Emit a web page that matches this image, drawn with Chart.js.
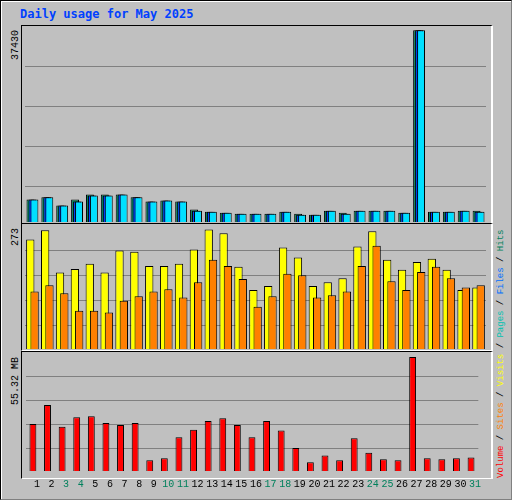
<!DOCTYPE html>
<html>
<head>
<meta charset="utf-8">
<script src="https://cdn.jsdelivr.net/npm/chart.js@4/dist/chart.umd.min.js"></script>
<style>
body{margin:0;background:#fff}
#wrap{position:absolute;left:0;top:0;width:510px;height:498px;background:#c0c0c0;border-top:1px solid #000;border-left:1px solid #000;border-right:1px solid #808080;border-bottom:1px solid #808080;box-shadow:inset 1px 1px 0 #fff;font-family:"Liberation Mono",monospace}
.panel{position:absolute;left:20px;width:469px;border-top:1px solid #000;border-left:1px solid #000;border-right:2px solid #fff;border-bottom:1px solid #fff}
canvas{position:absolute}
#title{position:absolute;left:19px;top:6px;color:#0040ff;font-weight:bold;font-size:12px;font-family:"DejaVu Sans Mono",monospace}
.rot{position:absolute;transform-origin:0 0;transform:rotate(-90deg);font-size:10px;line-height:12px;white-space:nowrap;color:#000}
</style>
</head>
<body>
<div id="wrap">
  <div id="title">Daily usage for May 2025</div>
  <div class="panel" style="top:24px;height:197px"></div>
  <div class="panel" style="top:222px;height:126px"></div>
  <div class="panel" style="top:350px;height:126px"></div>
  <canvas id="c1"></canvas>
  <canvas id="c2"></canvas>
  <canvas id="c3"></canvas>
  <div class="rot" style="left:9px;top:59px">37430</div>
  <div class="rot" style="left:9px;top:245px">273</div>
  <div class="rot" style="left:9px;top:404px">55.32 MB</div>
  <div class="rot" style="left:494px;top:477px;font-size:9px"><span style="color:#ff0000">Volume</span> / <span style="color:#ff8000">Sites</span> / <span style="color:#ffff00">Visits</span> / <span style="color:#00c0b0">Pages</span> / <span style="color:#0070ff">Files</span> / <span style="color:#00805c">Hits</span></div>
</div>
<script>
const days = ['1','2','3','4','5','6','7','8','9','10','11','12','13','14','15','16','17','18','19','20','21','22','23','24','25','26','27','28','29','30','31']
const weekend = ['3','4','10','11','17','18','24','25','31']

const hits = [4380,4830,3200,4380,5360,5360,5360,4830,3990,4180,3990,2420,2020,1830,1630,1630,1630,2020,1630,1440,2220,1830,2220,2220,2220,1830,37430,2020,2020,2220,2220]
const files = [4380,4830,3200,3980,5160,5160,5360,4830,3990,4180,3990,2220,2020,1830,1630,1630,1630,2020,1440,1440,2220,1630,2220,2220,2220,1830,37430,2020,2020,2220,2020]
const pages = [4380,4830,3200,3980,5160,5160,5360,4830,3990,4180,3990,2220,2020,1830,1630,1630,1630,2020,1440,1440,2220,1630,2220,2220,2220,1830,37430,2020,2020,2220,2020]

const visits = [249,270,174,182,194,174,224,221,189,189,194,226,272,263,187,134,143,231,208,143,152,161,233,268,203,180,198,205,180,134,140]
const sites = [131,145,127,87,87,83,110,120,131,136,117,152,203,189,159,96,120,171,168,117,122,131,189,235,154,134,175,187,161,140,145]

const volume = [22.8,32.0,21.4,26.0,26.5,23.3,22.3,23.3,5.2,6.2,16.3,20.0,24.2,25.6,22.3,16.3,24.2,19.6,11.2,4.3,7.5,5.2,15.9,8.9,5.7,5.2,55.32,6.2,5.7,6.2,6.6]

Chart.defaults.animation = false
Chart.defaults.font.family = '"Liberation Mono", monospace'

// draw datasets in index order so the right-hand bar sits on top
const drawInOrder = {
    id:'drawInOrder',
    beforeDatasetsDraw(chart){
        chart.getSortedVisibleDatasetMetas().slice().sort((a,b)=>a.index-b.index).forEach(m=>m.controller.draw())
        return false
    }
}

const place = (id, left, top, w, h)=>{
    const c = document.getElementById(id)
    c.style.left = left+'px'
    c.style.top = top+'px'
    c.style.width = w+'px'
    c.style.height = h+'px'
    c.width = w
    c.height = h
    return c
}

const yScale = (max, areaH, step)=>({
    min:0,
    max:max,
    afterBuildTicks: axis=>{
        const t = []
        for (let p = step; p < areaH; p += step) t.push({value:max*(1-p/areaH)})
        axis.ticks = t
    },
    ticks:{display:false},
    border:{display:false},
    grid:{color:'#808080',drawTicks:false,lineWidth:1}
})

const bar = (label, data, color)=>({
    label:label, data:data, backgroundColor:color, borderColor:'#000', borderWidth:1, borderSkipped:'bottom'
})

const baseOpts = (ymax, areaH, step, cat, barp)=>({
    responsive:false,
    layout:{padding:0},
    plugins:{legend:{display:false},tooltip:{enabled:false}},
    datasets:{bar:{categoryPercentage:cat,barPercentage:barp}},
    scales:{
        x:{display:false},
        y:yScale(ymax, areaH, step)
    }
})

new Chart(place('c1',24,25,461,196),{
    type:'bar',
    data:{labels:days,datasets:[bar('Hits',hits,'#00805c'),bar('Files',files,'#0040ff'),bar('Pages',pages,'#00e0ff')]},
    options:baseOpts(38270,196,40,0.40,4),
    plugins:[drawInOrder]
})

new Chart(place('c2',24,224,461,124),{
    type:'bar',
    data:{labels:days,datasets:[bar('Visits',visits,'#ffff00'),bar('Sites',sites,'#ff8000')]},
    options:baseOpts(282,124,25,0.58,1.93),
    plugins:[drawInOrder]
})

const o3 = baseOpts(57.2,124,25,0.47,1)
o3.scales.x = {
    display:true,
    border:{display:false},
    grid:{display:false,drawTicks:false},
    ticks:{
        autoSkip:false,maxRotation:0,padding:7,labelOffset:4,
        font:{size:10,lineHeight:1.2},
        color: ctx=>weekend.includes(days[ctx.index]) ? '#00805c' : '#000'
    }
}
new Chart(place('c3',21.6,352,461,144),{
    type:'bar',
    data:{labels:days,datasets:[bar('Volume',volume,'#ff0000')]},
    options:o3,
    plugins:[drawInOrder]
})
</script>
</body>
</html>
